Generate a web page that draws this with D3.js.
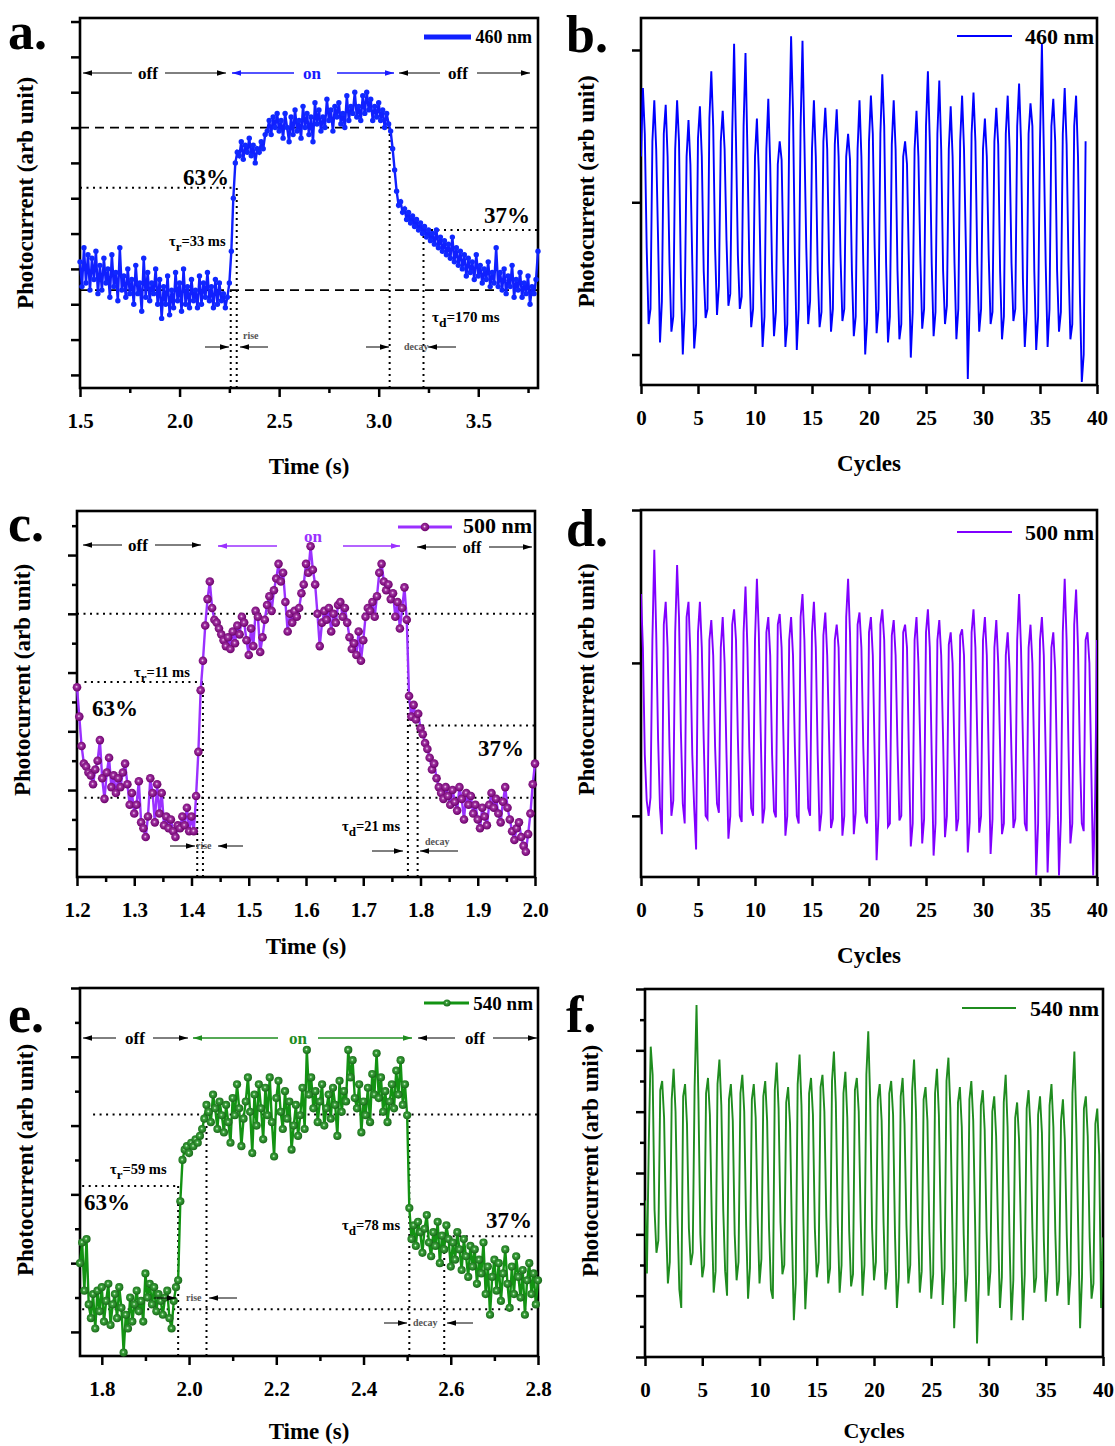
<!DOCTYPE html>
<html><head><meta charset="utf-8">
<script src="https://cdn.jsdelivr.net/npm/d3@7"></script>
<style>
body{margin:0;background:#fff;}
svg{display:block;}
text{font-family:"Liberation Serif","Times New Roman",serif;font-weight:bold;}
</style>
</head><body>
<svg id="chart" width="1115" height="1446"></svg>
<script>
// ---------------- DATA ----------------
// Panel a: 460 nm transient, sampled every 0.01 s from 1.50 s
const timeA0 = 1.5, timeAStep = 0.01;
const photoA = [
3.2,2.5,3.6,2.6,3.4,2.4,3.3,2.7,3.5,2.3,
3.1,2.4,3.3,2.6,3.0,2.2,3.4,2.5,2.9,2.1,
3.6,2.4,2.8,2.2,3.0,2.3,2.7,2.0,3.1,2.3,
2.6,1.8,3.3,2.2,2.9,2.1,2.6,2.3,3.0,2.0,
2.7,1.6,2.5,2.0,2.8,1.7,2.4,1.9,2.9,2.1,
2.6,1.8,3.0,2.0,2.5,1.9,2.7,2.1,2.4,1.9,
2.8,2.0,2.6,2.2,2.9,2.1,2.5,1.9,2.7,2.0,
2.6,2.1,2.3,1.9,2.2,2.6,3.5,5.0,6.0,6.3,
6.2,6.6,6.1,6.5,6.3,6.7,6.2,6.5,6.0,6.4,
6.3,6.6,6.4,6.8,6.9,7.2,6.8,7.3,7.0,7.4,
6.9,7.2,6.7,7.4,7.0,6.6,7.3,6.8,7.5,6.9,
7.2,6.7,7.6,7.0,7.4,6.8,7.3,6.6,7.7,7.1,
7.5,6.9,7.3,7.0,7.8,7.2,7.5,6.9,7.6,7.3,
7.7,7.1,7.4,7.0,7.9,7.2,7.6,7.4,8.0,7.3,
7.6,7.2,7.9,7.4,8.0,7.5,7.8,7.2,7.6,7.3,
7.7,7.2,7.5,7.0,7.4,7.1,6.9,6.4,5.8,5.2,
4.8,4.9,4.6,4.7,4.4,4.6,4.3,4.5,4.2,4.4,
4.1,4.3,4.0,4.2,3.9,4.1,3.8,4.0,3.7,4.1,
3.6,3.9,3.5,3.8,3.4,3.7,3.3,3.9,3.2,3.6,
3.1,3.5,3.0,3.4,2.8,3.3,2.9,3.2,2.7,3.4,
2.8,3.1,2.6,3.0,2.7,3.2,2.5,2.9,2.6,3.6,
2.5,2.9,2.4,3.0,2.3,2.8,2.5,3.1,2.2,2.7,
2.4,2.9,2.2,2.6,2.3,2.8,2.0,2.5,2.3,2.7,
3.5];

// Panel c: 500 nm transient, sampled every 0.004 s from 1.200 s
const timeC0 = 1.2, timeCStep = 0.004;
const photoC = [
2.75,2.25,1.75,1.45,1.40,1.30,1.25,1.10,1.35,1.50,
1.85,1.20,0.85,1.30,1.55,1.05,1.25,0.95,1.20,1.05,
1.30,1.45,1.10,0.75,0.95,0.60,0.75,1.15,0.45,0.35,
0.20,0.55,1.20,0.95,0.45,1.10,0.60,0.95,0.40,0.55,
0.35,0.50,0.30,0.20,0.40,0.35,0.55,0.40,0.70,0.30,
0.55,0.30,0.90,1.65,2.70,3.20,3.80,4.25,4.55,
4.10,3.90,3.85,3.75,3.65,3.55,3.45,3.60,3.40,3.70,
3.50,3.80,3.65,3.95,3.85,3.55,3.30,3.75,3.45,4.05,
3.95,3.35,3.60,3.90,4.15,4.30,4.05,4.40,4.60,4.85,
4.55,4.70,4.20,3.70,4.00,3.85,4.05,3.95,4.10,4.35,
4.50,4.85,4.70,5.15,4.75,4.50,4.00,3.45,3.85,4.05,
3.90,4.10,3.70,4.00,3.85,4.15,4.20,3.95,4.10,3.85,
3.60,3.40,3.50,3.30,3.70,3.20,3.55,3.95,4.10,4.05,
4.20,3.95,4.30,4.70,4.85,4.55,4.40,4.50,4.25,4.35,
3.95,4.20,3.75,4.10,4.45,
3.90,2.60,2.25,2.45,2.20,2.30,2.05,1.95,1.80,1.70,
1.55,1.35,1.45,1.20,1.05,0.95,0.85,1.05,0.90,0.75,
1.00,0.80,0.65,1.05,0.85,0.50,0.95,0.75,0.90,0.60,
0.75,0.50,0.35,0.70,0.55,0.40,0.75,0.95,0.70,0.85,
0.60,0.45,0.80,1.05,0.70,0.50,0.30,0.15,0.35,0.45,
0.20,0.05,-0.05,0.25,0.60,1.10,1.45];

// Panel e: 540 nm transient, sampled every 0.005 s from 1.750 s
const timeE0 = 1.75, timeEStep = 0.005;
const photoE = [
1.00,1.30,0.60,1.35,0.40,0.20,0.55,0.05,0.60,0.30,
0.65,0.15,0.45,0.70,0.10,0.40,0.55,0.20,0.65,0.35,
-0.30,0.25,0.05,0.50,0.15,0.40,0.60,0.30,0.45,0.15,
0.85,0.50,0.70,0.40,0.65,0.30,0.55,0.45,0.25,0.50,
0.60,0.20,0.05,0.45,0.65,0.75,
1.90,2.50,2.65,2.70,2.60,2.75,2.70,2.80,2.75,2.85,
2.95,3.10,3.30,3.20,3.05,3.45,3.25,2.95,3.35,3.15,
2.90,3.30,3.05,2.75,3.40,3.15,3.60,3.25,2.70,3.10,
3.35,3.70,3.20,2.60,3.45,3.00,3.60,3.25,2.80,3.55,
3.15,3.70,3.05,2.55,3.40,3.65,3.20,2.95,3.50,3.10,
3.35,2.65,3.00,3.30,2.85,3.15,3.55,2.95,4.10,3.45,
3.70,3.25,3.50,3.05,3.35,3.60,3.00,3.25,3.45,3.10,
3.55,3.30,2.85,3.65,3.20,3.50,3.35,4.10,3.70,3.95,
3.40,3.25,3.60,2.90,3.35,3.15,3.55,3.05,3.75,3.45,
4.05,3.40,3.70,3.20,3.50,3.05,3.35,3.60,3.25,3.80,
3.45,3.95,3.30,3.60,3.15,
1.80,1.35,1.55,1.25,1.60,1.45,1.15,1.50,1.70,1.30,
1.10,1.45,1.25,1.60,1.00,1.40,1.20,1.55,1.35,0.95,
1.30,1.05,1.45,1.20,0.90,1.35,1.10,0.80,1.25,0.95,
1.20,0.70,1.05,0.85,1.30,0.55,0.95,0.25,0.80,1.05,
0.60,1.00,0.45,0.85,1.20,0.70,0.35,0.95,0.55,1.10,
0.80,0.50,0.90,0.25,0.75,1.00,0.55,0.85,0.40,0.75];

// Cycling data: six readings per cycle
const cycleStep = 1/6;
const cyclesB = [
2.30,2.75,2.45,1.70,1.20,1.30, 2.40,2.67,2.35,1.75,1.08,1.35, 2.45,2.64,2.30,1.60,1.15,1.25,
2.35,2.67,2.40,1.50,1.00,1.30, 2.30,2.54,2.25,1.60,1.04,1.20, 2.42,2.63,2.30,1.55,1.24,1.30,
2.55,2.86,2.50,1.70,1.26,1.45, 2.40,2.60,2.35,1.75,1.32,1.40, 2.45,3.04,2.40,1.65,1.30,1.38,
2.50,2.98,2.35,1.60,1.18,1.30, 2.30,2.55,2.20,1.50,1.05,1.25, 2.35,2.68,2.25,1.55,1.12,1.28,
2.25,2.40,2.28,1.60,1.05,1.20, 2.45,3.09,2.60,1.65,1.03,1.30, 2.50,3.06,2.40,1.70,1.20,1.35,
2.35,2.67,2.30,1.55,1.18,1.28, 2.40,2.62,2.35,1.60,1.15,1.30, 2.38,2.61,2.30,1.65,1.22,1.30,
2.30,2.45,2.28,1.55,1.12,1.25, 2.35,2.67,2.30,1.60,1.00,1.22, 2.40,2.70,2.45,1.70,1.14,1.30,
2.45,2.84,2.50,1.60,1.08,1.25, 2.38,2.67,2.35,1.55,1.10,1.20, 2.30,2.40,2.25,1.60,0.98,1.28,
2.35,2.60,2.30,1.65,1.17,1.30, 2.50,2.86,2.40,1.60,1.12,1.28, 2.45,2.80,2.35,1.55,1.20,1.32,
2.35,2.63,2.30,1.60,1.10,1.30, 2.40,2.70,2.35,1.70,0.84,1.35, 2.45,2.72,2.40,1.60,1.15,1.30,
2.35,2.55,2.30,1.65,1.20,1.28, 2.40,2.62,2.38,1.55,1.10,1.25, 2.45,2.70,2.35,1.60,1.22,1.30,
2.50,2.78,2.40,1.50,1.05,1.28, 2.45,2.65,2.50,1.55,1.03,1.25, 2.40,3.04,2.35,1.60,1.05,1.30,
2.50,2.68,2.40,1.55,1.15,1.28, 2.45,2.75,2.38,1.60,1.10,1.20, 2.50,2.70,2.30,1.40,0.82,1.00,
2.40];
const cyclesD = [
2.45,2.10,1.40,1.10,1.00,1.12, 2.15,2.74,2.20,1.50,1.05,0.88, 2.25,2.40,2.10,1.45,1.00,1.10,
2.20,2.64,2.30,1.55,1.08,0.95, 2.30,2.40,2.05,1.40,1.05,0.78, 2.20,2.40,2.10,1.50,1.00,0.98,
2.15,2.28,2.05,1.45,1.08,1.02, 2.10,2.30,2.00,1.40,0.85,1.00, 2.25,2.35,2.15,1.50,1.00,0.96,
2.20,2.50,2.10,1.45,1.05,1.00, 2.15,2.55,2.20,1.55,0.95,1.05, 2.20,2.30,2.05,1.40,1.03,0.99,
2.25,2.32,2.10,1.50,0.87,1.00, 2.15,2.30,2.05,1.45,1.00,0.95, 2.30,2.45,2.15,1.55,1.05,1.00,
2.20,2.40,2.10,1.40,0.90,1.02, 2.18,2.33,2.05,1.50,0.92,0.98, 2.15,2.25,2.10,1.45,0.87,1.00,
2.30,2.55,2.20,1.55,0.88,1.02, 2.25,2.33,2.10,1.45,1.00,0.95, 2.20,2.30,2.05,1.40,0.71,1.00,
2.25,2.35,2.15,1.50,0.93,0.95, 2.18,2.28,2.05,1.45,0.97,1.00, 2.20,2.25,2.10,1.40,0.80,0.95,
2.15,2.30,2.00,1.45,0.82,0.98, 2.20,2.35,2.10,1.40,0.74,0.95, 2.15,2.28,2.05,1.50,0.86,1.00,
2.12,2.20,2.00,1.40,0.90,0.98, 2.18,2.22,2.05,1.45,0.76,0.96, 2.20,2.35,2.10,1.50,0.89,1.00,
2.15,2.30,2.05,1.40,0.75,0.98, 2.10,2.28,2.00,1.45,0.88,0.95, 2.05,2.20,1.95,1.40,0.92,0.98,
2.15,2.45,2.10,1.50,0.95,0.90, 2.10,2.25,2.00,1.35,0.61,0.95, 2.15,2.30,2.05,1.40,0.63,1.00,
2.10,2.20,1.95,1.30,0.61,0.98, 2.20,2.55,2.15,1.45,0.82,0.95, 2.25,2.48,2.10,1.40,0.95,0.90,
2.15,2.20,2.00,1.30,0.61,1.10, 2.15];
const cyclesF = [
2.55,1.36,3.50,5.06,4.60,2.40, 1.70,1.90,4.35,4.50,3.90,2.20, 1.20,1.55,4.20,4.70,4.00,2.30,
1.10,0.80,4.25,4.45,3.80,2.10, 1.50,1.70,4.40,5.74,4.20,2.00, 1.30,1.50,4.30,4.55,3.95,2.25,
1.05,1.40,4.45,4.85,4.10,2.40, 1.40,1.00,4.20,4.45,3.85,2.00, 1.25,1.55,4.30,4.60,4.00,2.15,
0.95,1.45,4.20,4.45,3.90,2.30, 1.20,1.60,4.25,4.50,3.85,2.10, 1.10,0.95,4.35,4.80,4.05,2.20,
1.35,1.50,4.15,4.40,3.80,2.00, 0.60,1.20,4.45,4.93,4.10,2.25, 0.78,1.40,4.30,4.55,3.95,2.10,
1.30,1.55,4.40,4.60,4.00,2.30, 1.20,1.45,4.50,4.98,4.15,2.20, 1.05,1.50,4.30,4.65,3.90,2.05,
1.15,1.35,4.35,4.55,4.00,2.25, 1.00,1.50,4.60,5.31,4.20,2.10, 1.25,1.55,4.20,4.45,3.85,2.20,
1.10,1.40,4.30,4.50,3.95,2.00, 0.80,1.30,4.25,4.55,3.80,2.15, 1.20,1.50,4.35,4.85,4.00,2.25,
1.05,1.40,4.20,4.40,3.85,2.05, 0.95,1.35,4.30,4.70,3.95,2.10, 0.85,1.45,4.50,4.88,4.05,2.20,
0.47,1.20,4.15,4.40,3.75,2.00, 0.90,1.35,4.20,4.50,3.85,2.15, 0.22,1.25,4.10,4.35,3.70,2.05,
1.00,1.40,4.00,4.25,3.60,2.10, 0.80,1.30,4.15,4.60,3.75,1.95, 0.60,1.25,3.90,4.15,3.55,2.00,
0.60,1.35,4.05,4.35,3.70,2.10, 1.05,1.30,3.95,4.25,3.65,1.90, 0.90,1.40,4.10,4.45,3.75,2.05,
1.00,1.25,3.85,4.20,3.55,2.00, 0.85,1.35,4.30,4.98,3.80,2.10, 0.47,1.30,4.05,4.25,3.60,1.95,
0.95,1.20,3.80,4.05,3.30,0.80, 1.95];

// Tick values
const timeTicksA = [1.5,2.0,2.5,3.0,3.5];
const timeMinorA = [1.75,2.25,2.75,3.25,3.75];
const timeTicksC = [1.2,1.3,1.4,1.5,1.6,1.7,1.8,1.9,2.0];
const timeMinorC = [1.25,1.35,1.45,1.55,1.65,1.75,1.85,1.95];
const timeTicksE = [1.8,2.0,2.2,2.4,2.6,2.8];
const timeMinorE = [1.9,2.1,2.3,2.5,2.7];
const cycleTicks = [0,5,10,15,20,25,30,35,40];
const levelTicksA = [0,1,2,3,4,5,6,7,8,9,10];
const levelTicksBD = [1,2,3];
const levelTicksC = [0,1,2,3,4,5];
const levelMinorC = [0.5,1.5,2.5,3.5,4.5,5.5];
const levelTicksE = [0,1,2,3,4,5];
const levelMinorE = [0.5,1.5,2.5,3.5,4.5];
const levelTicksF = [0,1,2,3,4,5,6];
const levelMinorF = [0.5,1.5,2.5,3.5,4.5,5.5];

// ---------------- DRAWING ----------------
const svg = d3.select("#chart");
const defs = svg.append("defs");
function arrowMarker(id, color){
  defs.append("marker").attr("id",id).attr("viewBox","0 0 10 6")
    .attr("refX",10).attr("refY",3).attr("markerWidth",9).attr("markerHeight",5.4)
    .attr("markerUnits","userSpaceOnUse").attr("orient","auto")
    .append("path").attr("d","M0,0 L10,3 L0,6 Z").attr("fill",color);
}
arrowMarker("arK","#000"); arrowMarker("arB","#1a1aff"); arrowMarker("arP","#9b30ff");
arrowMarker("arG","#1e8c1e"); arrowMarker("arS","#000");
function grad(id, c0, c1, c2){
  const g = defs.append("radialGradient").attr("id",id).attr("cx","45%").attr("cy","45%").attr("r","55%");
  g.append("stop").attr("offset","0%").attr("stop-color",c0);
  g.append("stop").attr("offset","30%").attr("stop-color",c1);
  g.append("stop").attr("offset","100%").attr("stop-color",c2);
}
grad("gP","#f4e0f4","#a030a0","#6a006a");
grad("gG","#eaffea","#3aa03a","#186818");

function panel(p){
  const g = svg.append("g");
  const x = d3.scaleLinear().domain(p.xDomain).range([p.L,p.R]);
  const y = d3.scaleLinear().domain(p.yDomain).range([p.B,p.T]);
  const styleAxis = (sel)=>{
    sel.select(".domain").remove();
    sel.selectAll("line").attr("stroke","#000").attr("stroke-width",2.5);
    sel.selectAll("text").attr("fill","#000").attr("font-size",21);
  };
  g.append("g").attr("transform",`translate(0,${p.B})`)
    .call(d3.axisBottom(x).tickValues(p.xTicks).tickFormat(p.xFmt).tickSize(9).tickSizeOuter(0).tickPadding(16))
    .call(styleAxis);
  if(p.xMinor) g.append("g").attr("transform",`translate(0,${p.B})`)
    .call(d3.axisBottom(x).tickValues(p.xMinor).tickFormat("").tickSize(5).tickSizeOuter(0)).call(styleAxis);
  g.append("g").attr("transform",`translate(${p.L},0)`)
    .call(d3.axisLeft(y).tickValues(p.yTicks).tickFormat("").tickSize(9).tickSizeOuter(0)).call(styleAxis);
  if(p.yMinor) g.append("g").attr("transform",`translate(${p.L},0)`)
    .call(d3.axisLeft(y).tickValues(p.yMinor).tickFormat("").tickSize(5).tickSizeOuter(0)).call(styleAxis);
  g.append("rect").attr("x",p.L).attr("y",p.T).attr("width",p.R-p.L).attr("height",p.B-p.T)
    .attr("fill","none").attr("stroke","#000").attr("stroke-width",2.6);
  g.append("text").attr("x",(p.L+p.R)/2).attr("y",p.xTitleY).attr("text-anchor","middle")
    .attr("font-size",p.xTitleSize||23).text(p.xTitle);
  g.append("text").attr("transform",`translate(${p.yTitleX},${(p.T+p.B)/2+p.yTitleShift}) rotate(-90)`)
    .attr("text-anchor","middle").attr("dy","0.35em").attr("font-size",23).text("Photocurrent (arb unit)");
  g.append("text").attr("x",p.letterX).attr("y",p.letterY).attr("font-size",52).text(p.letter);
  const clip = "clip"+p.letter.replace(".","");
  defs.append("clipPath").attr("id",clip).append("rect").attr("x",p.L).attr("y",p.T-6).attr("width",p.R-p.L).attr("height",p.B-p.T+12);
  return {g,x,y,clip};
}

function hline(P, v, x0, x1, dash, w){
  P.g.append("line").attr("x1",P.x(x0)).attr("x2",P.x(x1)).attr("y1",P.y(v)).attr("y2",P.y(v))
    .attr("stroke","#000").attr("stroke-width",w||2).attr("stroke-dasharray",dash);
}
function vline(P, t, v, dash){
  P.g.append("line").attr("x1",P.x(t)).attr("x2",P.x(t)).attr("y1",P.y(P.y.domain()[0])).attr("y2",P.y(v))
    .attr("stroke","#000").attr("stroke-width",2).attr("stroke-dasharray",dash||"2,4");
}
function arrow(P, x0, x1, yy, marker, color, w){
  P.g.append("line").attr("x1",x0).attr("x2",x1).attr("y1",yy).attr("y2",yy)
    .attr("stroke",color).attr("stroke-width",w||1).attr("marker-end",`url(#${marker})`);
}
function label(P, txt, xx, yy, size, color, anchor){
  return P.g.append("text").attr("x",xx).attr("y",yy).attr("font-size",size).attr("fill",color||"#000")
    .attr("text-anchor",anchor||"start").text(txt);
}
function tau(P, sub, rest, xx, yy, size){
  const t = P.g.append("text").attr("x",xx).attr("y",yy).attr("font-size",size);
  t.append("tspan").text("τ");
  t.append("tspan").attr("dy",5).attr("font-size",size*0.9).text(sub);
  t.append("tspan").attr("dy",-5).text(rest);
}
function small(P, txt, xx, yy){
  P.g.append("text").attr("x",xx).attr("y",yy).attr("font-size",10).attr("font-weight","normal")
    .attr("fill","#555").text(txt);
}

// ---------- Panel a ----------
const A = panel({L:80,R:538,T:18,B:388,xDomain:[1.5,3.8],yDomain:[-0.37,10.1],
  xTicks:timeTicksA,xMinor:timeMinorA,xFmt:d3.format(".1f"),yTicks:levelTicksA,
  xTitle:"Time (s)",xTitleY:474,yTitleX:25,yTitleShift:-10,letter:"a.",letterX:8,letterY:49});
hline(A,7.0,1.5,3.8,"9,6",1.8);
hline(A,2.4,1.5,3.8,"9,6",1.8);
hline(A,5.3,1.5,2.262,"2,4.5");
hline(A,4.1,3.23,3.8,"2,4.5");
vline(A,2.257,2.4,"2,4"); vline(A,2.287,5.3,"2,4"); vline(A,3.055,7.0,"2,4"); vline(A,3.225,4.1,"2,4");
const tA = photoA.map((v,i)=>[timeA0+i*timeAStep, v]);
A.g.append("path").datum(tA).attr("fill","none").attr("stroke","#1020ff").attr("stroke-width",2.4)
  .attr("d",d3.line().x(d=>A.x(d[0])).y(d=>A.y(d[1])));
A.g.append("g").selectAll("circle").data(tA).join("circle")
  .attr("cx",d=>A.x(d[0])).attr("cy",d=>A.y(d[1])).attr("r",2.7).attr("fill","#1028ff");
label(A,"63%",183,185,23); label(A,"37%",484,223,23);
tau(A,"r","=33 ms",169,246,14.5); tau(A,"d","=170 ms",432,322,15);
small(A,"rise",243,339); small(A,"decay",404,350);
arrow(A,205,229,347,"arS","#000"); arrow(A,268,240,347,"arS","#000");
arrow(A,366,389,347,"arS","#000"); arrow(A,456,428,347,"arS","#000");
arrow(A,132,83,73,"arK","#000"); label(A,"off",148,79,17,"#000","middle"); arrow(A,165,226,73,"arK","#000");
arrow(A,294,232,73,"arB","#1a1aff",1.5); label(A,"on",312,79,17,"#1a1aff","middle"); arrow(A,337,394,73,"arB","#1a1aff",1.5);
arrow(A,440,399,73,"arK","#000"); label(A,"off",458,79,17,"#000","middle"); arrow(A,477,530,73,"arK","#000");
A.g.append("line").attr("x1",424).attr("x2",471).attr("y1",37).attr("y2",37).attr("stroke","#1020ff").attr("stroke-width",5);
label(A,"460 nm",532,43,18,"#000","end");

// ---------- Panel b ----------
const Bp = panel({L:641,R:1097,T:18,B:385,xDomain:[0,40],yDomain:[0.80,3.21],
  xTicks:cycleTicks,xFmt:d3.format("d"),yTicks:levelTicksBD,
  xTitle:"Cycles",xTitleY:471,yTitleX:586,yTitleShift:-10,letter:"b.",letterX:566,letterY:52});
Bp.g.append("path").datum(cyclesB).attr("fill","none").attr("stroke","#0000ff").attr("stroke-width",1.9)
  .attr("clip-path",`url(#${Bp.clip})`)
  .attr("d",d3.line().x((d,i)=>Bp.x(i*cycleStep)).y(d=>Bp.y(d)));
Bp.g.append("line").attr("x1",957).attr("x2",1012).attr("y1",36).attr("y2",36).attr("stroke","#0000ff").attr("stroke-width",1.8);
label(Bp,"460 nm",1094,44,22,"#000","end");

// ---------- Panel c ----------
const C = panel({L:77,R:535,T:511,B:877,xDomain:[1.2,2.0],yDomain:[-0.48,5.75],
  xTicks:timeTicksC,xMinor:timeMinorC,xFmt:d3.format(".1f"),yTicks:levelTicksC,yMinor:levelMinorC,
  xTitle:"Time (s)",xTitleY:954,yTitleX:22,yTitleShift:-14,letter:"c.",letterX:8,letterY:541});
hline(C,4.0,1.2,2.0,"2,4.5");
hline(C,2.84,1.213,1.42,"2,4.5");
hline(C,2.1,1.78,2.0,"2,4.5");
hline(C,0.87,1.213,2.0,"2,4.5");
vline(C,1.41,0.87); vline(C,1.42,2.84); vline(C,1.778,4.0); vline(C,1.795,2.1);
const tC = photoC.map((v,i)=>[timeC0+i*timeCStep, v]);
C.g.append("path").datum(tC).attr("fill","none").attr("stroke","#9b30ff").attr("stroke-width",2.4)
  .attr("d",d3.line().x(d=>C.x(d[0])).y(d=>C.y(d[1])));
C.g.append("g").selectAll("circle").data(tC).join("circle")
  .attr("cx",d=>C.x(d[0])).attr("cy",d=>C.y(d[1])).attr("r",4.3).attr("fill","url(#gP)");
label(C,"63%",92,716,23); label(C,"37%",478,756,23);
tau(C,"r","=11 ms",134,677,14.5); tau(C,"d","=21 ms",342,831,14.5);
small(C,"rise",196,849); small(C,"decay",425,845);
arrow(C,170,195,846,"arS","#000"); arrow(C,243,218,846,"arS","#000");
arrow(C,372,403,851,"arS","#000"); arrow(C,458,420,851,"arS","#000");
arrow(C,122,83,545,"arK","#000"); label(C,"off",138,551,17,"#000","middle"); arrow(C,155,201,545,"arK","#000");
arrow(C,277,218,546,"arP","#9b30ff",1.5); label(C,"on",313,542,17,"#9b30ff","middle"); arrow(C,343,400,546,"arP","#9b30ff",1.5);
arrow(C,456,417,547,"arK","#000"); label(C,"off",472,553,16,"#000","middle"); arrow(C,489,532,547,"arK","#000");
C.g.append("line").attr("x1",398).attr("x2",452).attr("y1",527).attr("y2",527).attr("stroke","#9b30ff").attr("stroke-width",3);
C.g.append("circle").attr("cx",425).attr("cy",527).attr("r",4.3).attr("fill","url(#gP)");
label(C,"500 nm",532,533,22,"#000","end");

// ---------- Panel d ----------
const D = panel({L:641,R:1097,T:510,B:877,xDomain:[0,40],yDomain:[0.60,3.0],
  xTicks:cycleTicks,xFmt:d3.format("d"),yTicks:levelTicksBD,
  xTitle:"Cycles",xTitleY:963,yTitleX:586,yTitleShift:-14,letter:"d.",letterX:566,letterY:546});
D.g.append("path").datum(cyclesD).attr("fill","none").attr("stroke","#8000ff").attr("stroke-width",1.9)
  .attr("clip-path",`url(#${D.clip})`)
  .attr("d",d3.line().x((d,i)=>D.x(i*cycleStep)).y(d=>D.y(d)));
D.g.append("line").attr("x1",957).attr("x2",1012).attr("y1",532).attr("y2",532).attr("stroke","#8000ff").attr("stroke-width",1.8);
label(D,"500 nm",1094,540,22,"#000","end");

// ---------- Panel e ----------
const E = panel({L:80,R:538,T:988,B:1356,xDomain:[1.75,2.8],yDomain:[-0.35,5.0],
  xTicks:timeTicksE,xMinor:timeMinorE,xFmt:d3.format(".1f"),yTicks:levelTicksE,yMinor:levelMinorE,
  xTitle:"Time (s)",xTitleY:1439,yTitleX:25,yTitleShift:-12,letter:"e.",letterX:8,letterY:1032});
hline(E,3.16,1.78,2.8,"2,4.5");
hline(E,2.12,1.755,1.975,"2,4.5");
hline(E,1.39,2.53,2.8,"2,4.5");
hline(E,0.33,1.755,2.8,"2,4.5");
vline(E,1.975,2.12); vline(E,2.04,3.16); vline(E,2.505,3.16); vline(E,2.585,1.39);
const tE = photoE.map((v,i)=>[timeE0+i*timeEStep, v]);
E.g.append("path").datum(tE).attr("fill","none").attr("stroke","#139313").attr("stroke-width",2.4)
  .attr("d",d3.line().x(d=>E.x(d[0])).y(d=>E.y(d[1])));
E.g.append("g").selectAll("circle").data(tE).join("circle")
  .attr("cx",d=>E.x(d[0])).attr("cy",d=>E.y(d[1])).attr("r",4.1).attr("fill","url(#gG)");
label(E,"63%",84,1210,23); label(E,"37%",486,1228,23);
tau(E,"r","=59 ms",110,1174,14.5); tau(E,"d","=78 ms",342,1230,14.5);
small(E,"rise",186,1301); small(E,"decay",413,1326);
arrow(E,154,176,1298,"arS","#000"); arrow(E,237,209,1298,"arS","#000");
arrow(E,384,407,1323,"arS","#000"); arrow(E,473,447,1323,"arS","#000");
arrow(E,116,83,1038,"arK","#000"); label(E,"off",135,1044,17,"#000","middle"); arrow(E,153,188,1038,"arK","#000");
arrow(E,278,193,1038,"arG","#1e8c1e",1.5); label(E,"on",298,1044,17,"#1e8c1e","middle"); arrow(E,318,412,1038,"arG","#1e8c1e",1.5);
arrow(E,455,418,1038,"arK","#000"); label(E,"off",475,1044,17,"#000","middle"); arrow(E,493,537,1038,"arK","#000");
E.g.append("line").attr("x1",424).attr("x2",469).attr("y1",1003).attr("y2",1003).attr("stroke","#139313").attr("stroke-width",3);
E.g.append("circle").attr("cx",447).attr("cy",1003).attr("r",3.6).attr("fill","url(#gG)");
label(E,"540 nm",533,1010,19,"#000","end");

// ---------- Panel f ----------
const F = panel({L:645,R:1103,T:989,B:1357,xDomain:[0,40],yDomain:[0,6],
  xTicks:cycleTicks,xFmt:d3.format("d"),yTicks:levelTicksF,yMinor:levelMinorF,
  xTitle:"Cycles",xTitleY:1438,xTitleSize:22,yTitleX:590,yTitleShift:-12,letter:"f.",letterX:566,letterY:1032});
F.g.append("path").datum(cyclesF).attr("fill","none").attr("stroke","#1f8c1f").attr("stroke-width",1.9)
  .attr("clip-path",`url(#${F.clip})`)
  .attr("d",d3.line().x((d,i)=>F.x(i*cycleStep)).y(d=>F.y(d)));
F.g.append("line").attr("x1",962).attr("x2",1016).attr("y1",1008).attr("y2",1008).attr("stroke","#1f8c1f").attr("stroke-width",1.8);
label(F,"540 nm",1099,1016,22,"#000","end");
</script>
</body></html>
